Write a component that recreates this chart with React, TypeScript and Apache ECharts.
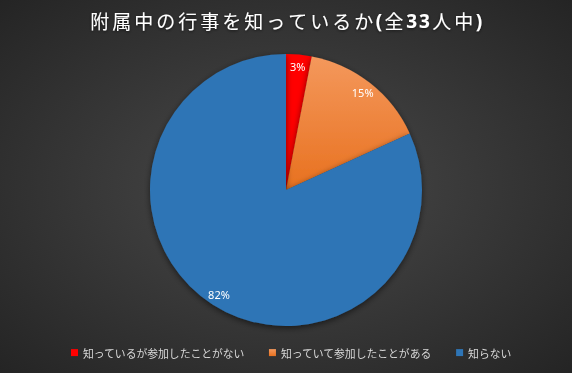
import React, { useEffect, useRef } from "react";
import * as echarts from "echarts";

const titleText = "附属中の行事を知っているか(全33人中)";
const categories = ["知っているが参加したことがない", "知っていて参加したことがある", "知らない"];
const counts = [1, 5, 27];
const colors = ["#ff0000", "#ed7d31", "#2e75b6"];

export default function App() {
  const ref = useRef<HTMLDivElement>(null);
  useEffect(() => {
    if (!ref.current) return;
    const chart = echarts.init(ref.current, null, { renderer: "svg" });
    const orange = new echarts.graphic.LinearGradient(0, 0, 0, 1, [
      { offset: 0, color: "#f4985c" },
      { offset: 1, color: "#e8711f" },
    ]);
    const data = categories.map((name, i) => ({
      name,
      value: counts[i],
      itemStyle: { color: i === 1 ? orange : colors[i] },
    }));
    const richTitle = Array.from(titleText)
      .map((c) => `{${/[\x00-\x7f]/.test(c) ? "b" : "a"}|${c}}`)
      .join("");
    const shadow = {
      textShadowColor: "rgba(0,0,0,0.6)",
      textShadowBlur: 3,
      textShadowOffsetY: 1,
    };
    chart.setOption({
      animation: false,
      backgroundColor: {
        type: "radial",
        x: 0.5,
        y: 0.5,
        r: 0.75,
        colorStops: [
          { offset: 0, color: "#4a4a4a" },
          { offset: 1, color: "#222222" },
        ],
      },
      color: colors,
      title: {
        text: richTitle,
        left: "center",
        top: 6,
        textStyle: {
          color: "#ffffff",
          fontSize: 19,
          fontWeight: "normal",
          fontFamily: "Noto Sans CJK JP",
          ...shadow,
          rich: {
            a: {
              color: "#ffffff",
              fontSize: 19,
              fontFamily: "Noto Sans CJK JP",
              padding: [0, 1.5],
              ...shadow,
            },
            b: {
              color: "#ffffff",
              fontSize: 19,
              fontWeight: "bold",
              fontFamily: "Noto Sans",
              padding: [0, 1],
              ...shadow,
            },
          },
        },
      },
      legend: {
        bottom: 10,
        left: 66,
        icon: "rect",
        itemWidth: 7,
        itemHeight: 7,
        itemGap: 24,
        data: categories,
        textStyle: {
          color: "#d9d9d9",
          fontSize: 10.8,
          fontFamily: "Noto Sans CJK JP",
        },
      },
      series: [
        {
          type: "pie",
          center: [286, 190],
          radius: [0, 136],
          startAngle: 90,
          clockwise: true,
          data,
          label: { show: false },
          labelLine: { show: false },
          itemStyle: {
            shadowColor: "rgba(0,0,0,0.55)",
            shadowBlur: 6,
            shadowOffsetY: 2,
          },
          emphasis: { disabled: true },
          silent: true,
        },
        {
          type: "pie",
          center: [286, 190],
          radius: [104, 138],
          startAngle: 90,
          clockwise: true,
          data: categories.map((name, i) => ({ name, value: counts[i] })),
          itemStyle: { color: "transparent" },
          label: {
            show: true,
            position: "inside",
            formatter: (p: any) => Math.round(p.percent) + "%",
            color: "#ffffff",
            fontSize: 11,
            fontFamily: "Noto Sans",
          },
          labelLine: { show: false },
          emphasis: { disabled: true },
          silent: true,
          legendHoverLink: false,
        },
      ],
    });
    return () => chart.dispose();
  }, []);
  return (
    <div
      ref={ref}
      style={{ position: "fixed", left: 0, top: 0, width: 572, height: 373 }}
    />
  );
}
